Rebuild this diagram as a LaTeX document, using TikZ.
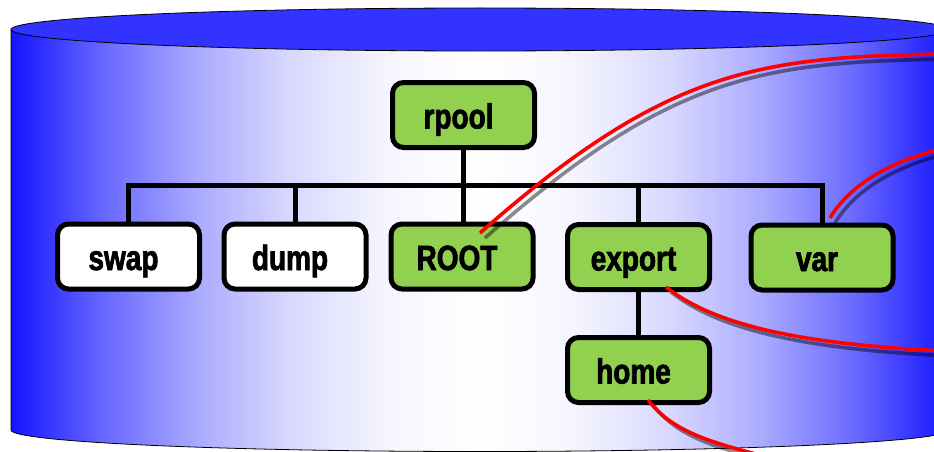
\documentclass[tikz,border=0pt]{standalone}
\usepackage{fontspec}
\newfontfamily\boxfont{Liberation Sans}[FakeStretch=0.8, BoldFeatures={FakeBold=2}]
\definecolor{nodegreen}{HTML}{92D050}
\definecolor{topblue}{HTML}{3333FF}
\pgfdeclarehorizontalshading{cylshade}{100bp}{rgb(0bp)=(0.08,0.08,1); rgb(25bp)=(0.08,0.08,1); rgb(30bp)=(0.41,0.41,1); rgb(35bp)=(0.67,0.67,1); rgb(40bp)=(0.85,0.85,1); rgb(45bp)=(0.96,0.96,1); rgb(50bp)=(1,1,1); rgb(55bp)=(0.96,0.96,1); rgb(60bp)=(0.85,0.85,1); rgb(65bp)=(0.67,0.67,1); rgb(70bp)=(0.41,0.41,1); rgb(75bp)=(0.08,0.08,1); rgb(100bp)=(0.08,0.08,1)}
\tikzset{
  box/.style={draw=black, line width=5pt, rounded corners=11pt, fill=nodegreen,
    minimum width=142pt, minimum height=65pt, inner sep=0pt,
    text height=28pt, text depth=1pt,
    font=\boxfont\bfseries\fontsize{35}{38}\selectfont,
    execute at begin node={\kern-10pt}},
  whitebox/.style={box, fill=white},
  tree/.style={draw=black, line width=5pt},
  link/.style={draw=red, line width=3.6pt},
  linkshadow/.style={draw=black, opacity=0.45, line width=3.6pt,
    transform canvas={shift={(5pt,-5pt)}}},
  rim/.style={draw=black, line width=0.8pt}
}
\begin{document}
\begin{tikzpicture}[x=1pt, y=-1pt]
\useasboundingbox (0,0) rectangle (934,452);
\clip (0,0) rectangle (934,452);
% cylinder
\shade[shading=cylshade] (11,29.5) -- (11,430)
  arc[start angle=180, end angle=360, x radius=469pt, y radius=21.5pt]
  -- (949,29.5) -- cycle;
\path[rim] (11,29.5) -- (11,430)
  arc[start angle=180, end angle=360, x radius=469pt, y radius=21.5pt]
  -- (949,29.5);
\path[rim, fill=topblue] (480,29.5) ellipse[x radius=469pt, y radius=21.5pt];
% nodes
\node[box]      (rpool)  at (463.5,115) {rpool};
\node[whitebox] (swap)   at (128.5,256.5) {swap};
\node[whitebox] (dump)   at (295,256.5) {dump};
\node[box]      (ROOT)   at (462,256.5) {ROOT};
\node[box]      (export) at (638.5,257) {export};
\node[box]      (var)    at (822,257.5) {var};
\node[box]      (home)   at (638.5,370) {home};
\coordinate (bar) at (0,185);
% tree connectors
\draw[tree] (rpool.south) -- (rpool.south |- ROOT.north);
\draw[tree] (swap.north) |- (var.north |- bar) -- (var.north);
\draw[tree] (dump.north) -- (dump.north |- bar);
\draw[tree] (export.north) -- (export.north |- bar);
\draw[tree] (export.south) -- (home.north);
% link end points
\coordinate (rootlink) at (480,233);
\coordinate (varlink) at (830,218);
\coordinate (explink) at (666,287);
\coordinate (homelink) at (648,400);
\coordinate (e1) at (945,54);
\coordinate (e2) at (945,148);
\coordinate (e3) at (945,351);
\coordinate (e4) at (760,455);
% shadows
\draw[linkshadow] (rootlink) .. controls (667,68) and (760,57) .. (e1);
\draw[linkshadow] (varlink) .. controls (848,188) and (885,162) .. (e2);
\draw[linkshadow] (explink) .. controls (720,330) and (820,345) .. (e3);
\draw[linkshadow] (homelink) .. controls (670,428) and (700,440) .. (e4);
% red links
\draw[link] (rootlink) .. controls (667,68) and (760,57) .. (e1);
\draw[link] (varlink) .. controls (848,188) and (885,162) .. (e2);
\draw[link] (explink) .. controls (720,330) and (820,345) .. (e3);
\draw[link] (homelink) .. controls (670,428) and (700,440) .. (e4);
\end{tikzpicture}
\end{document}
